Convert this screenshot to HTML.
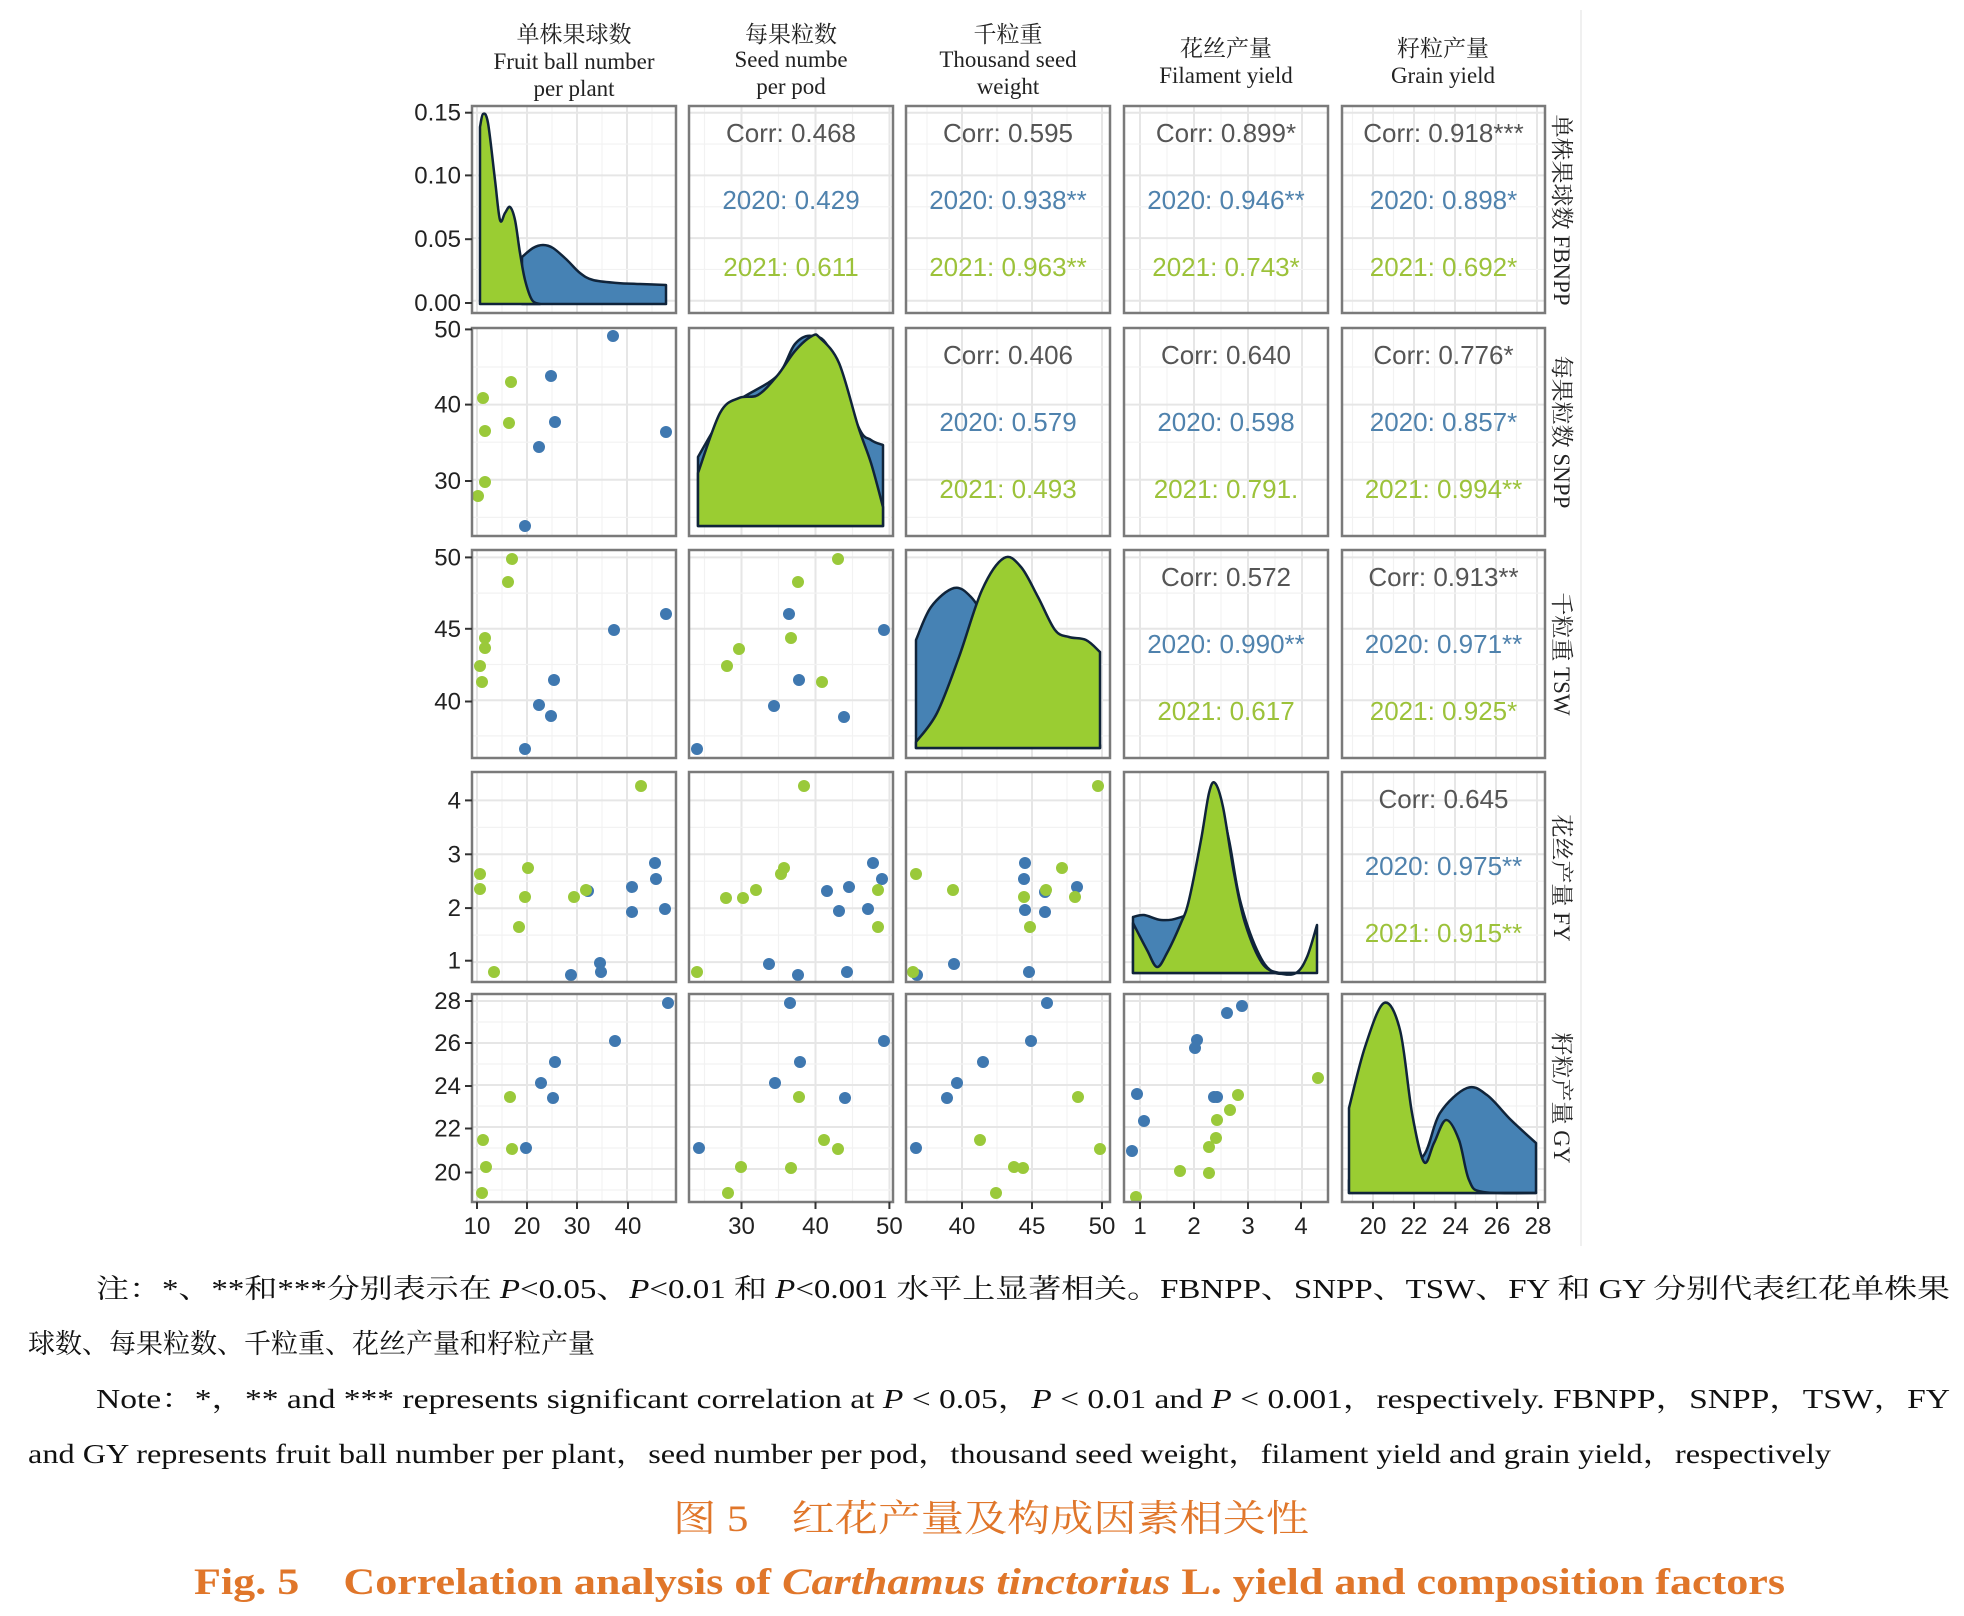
<!DOCTYPE html>
<html><head><meta charset="utf-8"><style>
html,body{margin:0;padding:0;background:#fff;}
svg{display:block;}
</style></head><body>
<svg id="s" xmlns="http://www.w3.org/2000/svg" width="1964" height="1616" viewBox="0 0 1964 1616">
<rect width="1964" height="1616" fill="#fff"/>
<g id="grid"></g>
<g id="dens"></g>
<g id="pts"></g>
<g id="frames"></g>
<g id="txt" font-family="Liberation Sans, sans-serif" font-size="26" text-anchor="middle"></g>
<g font-family="Liberation Serif, 'Noto Serif CJK SC', serif" font-size="23" text-anchor="middle" fill="#222">
<text x="574" y="42">单株果球数</text><text x="574" y="69">Fruit ball number</text><text x="574" y="96">per plant</text>
<text x="791" y="42">每果粒数</text><text x="791" y="67">Seed numbe</text><text x="791" y="94">per pod</text>
<text x="1008" y="42">千粒重</text><text x="1008" y="67">Thousand seed</text><text x="1008" y="94">weight</text>
<text x="1226" y="56">花丝产量</text><text x="1226" y="83">Filament yield</text>
<text x="1443" y="56">籽粒产量</text><text x="1443" y="83">Grain yield</text>
<text transform="translate(1554,210) rotate(90)">单株果球数 FBNPP</text>
<text transform="translate(1554,432) rotate(90)">每果粒数 SNPP</text>
<text transform="translate(1554,654) rotate(90)">千粒重 TSW</text>
<text transform="translate(1554,878) rotate(90)">花丝产量 FY</text>
<text transform="translate(1554,1098) rotate(90)">籽粒产量 GY</text>
</g>
<g id="ax" font-family="Liberation Sans, sans-serif" font-size="24" fill="#222"></g>
<line x1="1581" y1="10" x2="1581" y2="1246" stroke="#f0f0f0" stroke-width="2"/>
<g font-family="Liberation Serif, 'Noto Serif CJK SC', serif" font-size="27" fill="#111">
<text x="96" y="1298" textLength="1854" lengthAdjust="spacingAndGlyphs">注：*、**和***分别表示在 <tspan font-style="italic">P</tspan>&lt;0.05、<tspan font-style="italic">P</tspan>&lt;0.01 和 <tspan font-style="italic">P</tspan>&lt;0.001 水平上显著相关。FBNPP、SNPP、TSW、FY 和 GY 分别代表红花单株果</text>
<text x="28" y="1353">球数、每果粒数、千粒重、花丝产量和籽粒产量</text>
<text x="96" y="1408" textLength="1854" lengthAdjust="spacingAndGlyphs">Note：*，** and *** represents significant correlation at <tspan font-style="italic">P</tspan> &lt; 0.05，<tspan font-style="italic">P</tspan> &lt; 0.01 and <tspan font-style="italic">P</tspan> &lt; 0.001，respectively. FBNPP，SNPP，TSW，FY</text>
<text x="28" y="1463" textLength="1803" lengthAdjust="spacingAndGlyphs">and GY represents fruit ball number per plant，seed number per pod，thousand seed weight，filament yield and grain yield，respectively</text>
</g>
<g font-family="Liberation Serif, 'Noto Serif CJK SC', serif" fill="#e0762a" font-weight="bold">
<text x="673" y="1531" font-size="37" textLength="636" lengthAdjust="spacingAndGlyphs" font-weight="normal">图 5　红花产量及构成因素相关性</text>
<text x="194" y="1594" font-size="37" textLength="1591" lengthAdjust="spacingAndGlyphs">Fig. 5　Correlation analysis of <tspan font-style="italic">Carthamus tinctorius</tspan> L.  yield and composition factors</text>
</g>
</svg>
<script>
var NS="http://www.w3.org/2000/svg";
function el(p,t,a,txt){var e=document.createElementNS(NS,t);for(var k in a)e.setAttribute(k,a[k]);if(txt!=null)e.textContent=txt;document.getElementById(p).appendChild(e);return e;}
function smooth(pts){var d="M"+pts[0][0]+","+pts[0][1];for(var i=0;i<pts.length-1;i++){var p0=pts[i-1]||pts[i],p1=pts[i],p2=pts[i+1],p3=pts[i+2]||p2;
var c1x=p1[0]+(p2[0]-p0[0])/6,c1y=p1[1]+(p2[1]-p0[1])/6,c2x=p2[0]-(p3[0]-p1[0])/6,c2y=p2[1]-(p3[1]-p1[1])/6;
d+=" C"+c1x.toFixed(1)+","+c1y.toFixed(1)+" "+c2x.toFixed(1)+","+c2y.toFixed(1)+" "+p2[0]+","+p2[1];}return d;}
function D(col,pts,base){var d=smooth(pts);var l=pts[pts.length-1],f=pts[0];d+=" L"+l[0]+","+base+" L"+f[0]+","+base+" Z";el("dens","path",{d:d,fill:col,stroke:"#10243a","stroke-width":2.5,"stroke-linejoin":"round"});}
var SB="#4682b4",SG="#9acd32";
// row1
D(SB,[[522,257],[533,248],[543,245],[553,248],[567,260],[580,273],[593,280],[617,283],[640,284],[666,285]],304);
D(SG,[[480,127],[483,114],[488,123],[495,180],[500,220],[505,213],[510,207],[515,220],[520,253],[525,280],[532,300],[540,304]],304);
// row2
D(SB,[[698,457],[720,420],[739,400],[777,376],[795,344],[812,336],[830,350],[858,426],[871,440],[883,445]],526);
D(SG,[[698,473],[720,413],[739,398],[758,395],[777,376],[795,351],[812,336],[820,338],[839,363],[858,426],[871,463],[883,507]],526);
// row3
D(SB,[[916,640],[931,607],[954,588],[971,597],[985,620],[1000,660],[1020,700],[1050,730],[1100,745]],748);
D(SG,[[916,742],[937,713],[959,657],[982,590],[1004,558],[1021,567],[1038,597],[1055,630],[1069,637],[1086,640],[1100,652]],748);
// row4
D(SB,[[1133,917],[1144,915],[1161,920],[1178,918],[1189,910],[1201,873],[1212,807],[1217,793],[1229,840],[1240,900],[1257,950],[1273,972],[1296,973]],973);
D(SG,[[1133,923],[1147,950],[1157,967],[1167,953],[1181,923],[1189,900],[1201,840],[1209,793],[1215,783],[1223,807],[1234,873],[1245,923],[1262,963],[1279,973],[1296,973],[1307,957],[1317,925]],973);
// row5
D(SB,[[1349,1180],[1400,1170],[1424,1155],[1440,1113],[1467,1088],[1487,1095],[1511,1120],[1536,1143]],1193);
D(SG,[[1349,1108],[1365,1047],[1384,1003],[1400,1030],[1412,1113],[1424,1162],[1434,1143],[1446,1120],[1459,1140],[1469,1180],[1483,1192],[1536,1193]],1193);

var cols=[[472,676],[689,893],[906,1110],[1124,1328],[1342,1545]];
var rows=[[106,313],[328,536],[550,758],[772,982],[994,1202]];
var xt=[[477,527,577,628],[741.5,815.5,889.4],[962,1032,1102],[1140,1194,1248,1301],[1373,1414,1455.5,1497,1538]];
var xl=[["10","20","30","40"],["30","40","50"],["40","45","50"],["1","2","3","4"],["20","22","24","26","28"]];
var yt=[[112.7,175.4,239.2,303],[329.4,404.6,481],[557.4,628.8,701.5],[800.4,854.3,908.1,960.7],[1001,1043,1086,1128.5,1172.5]];
var yl=[["0.15","0.10","0.05","0.00"],["50","40","30"],["50","45","40"],["4","3","2","1"],["28","26","24","22","20"]];
function ext(a,lo,hi){var d=a[1]-a[0],r=[];for(var v=a[0]-d*4;v<hi+d*4;v+=d/2){if(v>lo+2&&v<hi-2)r.push([v,Math.round((v-a[0])/(d/2))%2==0]);}return r;}
for(var i=0;i<5;i++)for(var j=0;j<5;j++){
 var c=cols[j],r=rows[i];
 ext(xt[j],c[0],c[1]).forEach(function(g){el("grid","line",{x1:g[0],x2:g[0],y1:r[0],y2:r[1],stroke:g[1]?"#e6e6e6":"#f2f2f2","stroke-width":g[1]?2:1.2});});
 ext(yt[i],r[0],r[1]).forEach(function(g){el("grid","line",{y1:g[0],y2:g[0],x1:c[0],x2:c[1],stroke:g[1]?"#e6e6e6":"#f2f2f2","stroke-width":g[1]?2:1.2});});
 el("frames","rect",{x:c[0],y:r[0],width:c[1]-c[0],height:r[1]-r[0],fill:"none",stroke:"#7a7a7a","stroke-width":2.5});
}
for(var i=0;i<5;i++){yt[i].forEach(function(y,k){el("ax","line",{x1:465,x2:472,y1:y,y2:y,stroke:"#333","stroke-width":2});el("ax","text",{x:461,y:y+8,"text-anchor":"end"},yl[i][k]);});}
for(var j=0;j<5;j++){xt[j].forEach(function(x,k){el("ax","line",{x1:x,x2:x,y1:1202,y2:1209,stroke:"#333","stroke-width":2});el("ax","text",{x:x,y:1234,"text-anchor":"middle"},xl[j][k]);});}
var G="#555",B="#4f82ad",Y="#9cc23a";
var C={"0,1":["0.468","0.429","0.611"],"0,2":["0.595","0.938**","0.963**"],"0,3":["0.899*","0.946**","0.743*"],"0,4":["0.918***","0.898*","0.692*"],
"1,2":["0.406","0.579","0.493"],"1,3":["0.640","0.598","0.791."],"1,4":["0.776*","0.857*","0.994**"],"2,3":["0.572","0.990**","0.617"],"2,4":["0.913**","0.971**","0.925*"],"3,4":["0.645","0.975**","0.915**"]};
for(var k in C){var ij=k.split(","),i=+ij[0],j=+ij[1],cx=(cols[j][0]+cols[j][1])/2,t=rows[i][0];
 el("txt","text",{x:cx,y:t+36,fill:G},"Corr: "+C[k][0]);
 el("txt","text",{x:cx,y:t+103,fill:B},"2020: "+C[k][1]);
 el("txt","text",{x:cx,y:t+170,fill:Y},"2021: "+C[k][2]);}
var PB="#3f78b0",PG="#9ac93a";
function P(col,arr){arr.forEach(function(p){el("pts","circle",{cx:p[0],cy:p[1],r:6,fill:col});});}
P(PB,[[613,336],[551,376],[555,422],[539,447],[666,432],[525,526]]);
P(PG,[[483,398],[485,431],[511,382],[509,423],[485,482],[478,496]]);
P(PB,[[666,614],[614,630],[554,680],[539,705],[551,716],[525,749]]);
P(PG,[[512,559],[508,582],[485,638],[485,648],[480,666],[482,682]]);
P(PB,[[789,614],[884,630],[799,680],[774,706],[844,717],[697,749]]);
P(PG,[[838,559],[798,582],[791,638],[739,649],[727,666],[822,682]]);
P(PB,[[655,863],[656,879],[632,887],[588,891],[665,909],[632,912],[600,963],[601,972],[571,975]]);
P(PG,[[641,786],[528,868],[480,874],[480,889],[525,897],[574,897],[586,890],[519,927],[494,972]]);
P(PB,[[873,863],[882,879],[849,887],[827,891],[839,911],[868,909],[769,964],[798,975],[847,972]]);
P(PG,[[804,786],[784,868],[781,874],[756,890],[743,898],[726,898],[878,890],[878,927],[697,972]]);
P(PB,[[1025,863],[1024,879],[1045,892],[1077,887],[1025,910],[1045,912],[954,964],[1029,972],[917,975]]);
P(PG,[[1098,786],[1062,868],[916,874],[953,890],[1024,897],[1046,890],[1075,897],[1030,927],[913,972]]);
P(PB,[[668,1003],[615,1041],[555,1062],[541,1083],[553,1098],[526,1148]]);
P(PG,[[510,1097],[483,1140],[512,1149],[486,1167],[482,1193]]);
P(PB,[[790,1003],[884,1041],[800,1062],[775,1083],[845,1098],[699,1148]]);
P(PG,[[799,1097],[824,1140],[838,1149],[741,1167],[791,1168],[728,1193]]);
P(PB,[[1047,1003],[1031,1041],[983,1062],[957,1083],[947,1098],[916,1148]]);
P(PG,[[1078,1097],[980,1140],[1100,1149],[1014,1167],[1023,1168],[996,1193]]);
P(PB,[[1242,1006],[1227,1013],[1197,1040],[1195,1048],[1217,1097],[1214,1097],[1137,1094],[1144,1121],[1132,1151]]);
P(PG,[[1318,1078],[1238,1095],[1230,1110],[1217,1120],[1216,1138],[1209,1147],[1180,1171],[1209,1173],[1136,1197]]);
</script>
</body></html>
